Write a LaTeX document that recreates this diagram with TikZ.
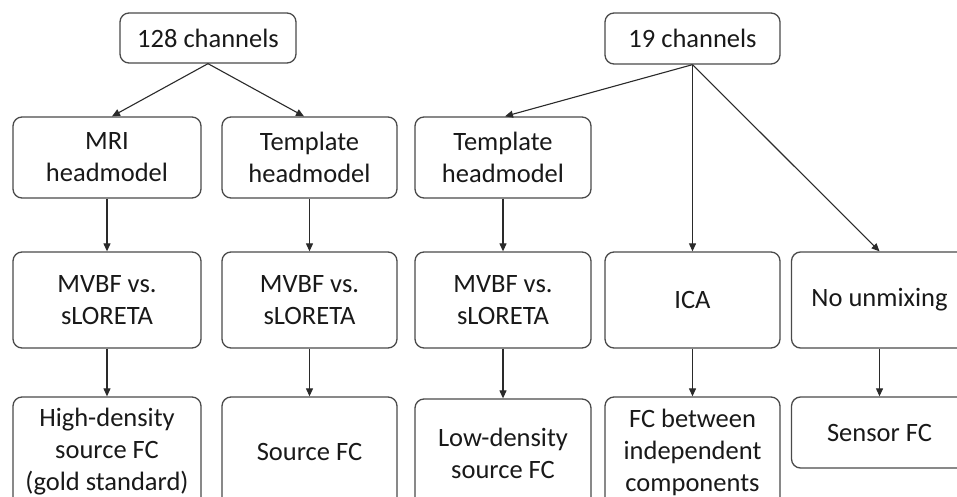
\documentclass[tikz,border=0pt]{standalone}
\usepackage{fontspec}
\setmainfont{Carlito}
\usetikzlibrary{arrows.meta}
\definecolor{boxline}{HTML}{4A4A4A}
\definecolor{arrline}{HTML}{2A2A2A}
\begin{document}
\begin{tikzpicture}[x=1pt,y=-1pt,
  box/.style={draw=boxline, line width=1.3pt, rounded corners=9pt, fill=white,
    align=center, inner sep=0pt, text=black!90,
    font=\fontsize{26.5}{32}\selectfont},
  arr/.style={draw=arrline, line width=1.1pt, -{Triangle[length=8pt,width=7pt]}}
]
\useasboundingbox (0,0) rectangle (957,497);
\clip (0,0) rectangle (957,497);
\fill[white] (0,0) rectangle (957,497);

% top row
\node[box, minimum width=176pt, minimum height=50pt] (c128) at (208,38) {128 channels};
\node[box, minimum width=175pt, minimum height=51pt] (c19) at (692.5,38.5) {19 channels};

% headmodel row
\node[box, minimum width=188pt, minimum height=81pt] (mri) at (107,157.5) {MRI\\headmodel};
\node[box, minimum width=175pt, minimum height=81pt] (tpl1) at (309.5,157.5) {Template\\headmodel};
\node[box, minimum width=176pt, minimum height=81pt] (tpl2) at (503,157.5) {Template\\headmodel};

% method row
\node[box, minimum width=188pt, minimum height=96pt] (mv1) at (107,300) {MVBF vs.\\sLORETA};
\node[box, minimum width=175pt, minimum height=96pt] (mv2) at (309.5,300) {MVBF vs.\\sLORETA};
\node[box, minimum width=176pt, minimum height=96pt] (mv3) at (503,300) {MVBF vs.\\sLORETA};
\node[box, minimum width=175pt, minimum height=96pt] (ica) at (692.5,300) {ICA};
\node[box, minimum width=176pt, minimum height=96pt] (nou) at (879.5,300) {No unmixing};

% result row
\node[box, minimum width=188pt, minimum height=110pt] (hd) at (107,452) {High-density\\source FC\\(gold standard)};
\node[box, minimum width=175pt, minimum height=110pt] (sfc) at (309.5,452) {Source FC};
\node[box, minimum width=176pt, minimum height=108pt] (ld) at (503,453) {Low-density\\source FC};
\node[box, minimum width=175pt, minimum height=110pt] (fcb) at (692.5,452) {FC between\\independent\\components};
\node[box, minimum width=176pt, minimum height=71pt] (sen) at (879.5,432.5) {Sensor FC};

% connectors
\draw[arr] (c128.south) -- ([xshift=5pt]mri.north);
\draw[arr] (c128.south) -- ([xshift=-5.5pt]tpl1.north);
\draw[arr] (c19.south) -- ([xshift=2pt]tpl2.north);
\draw[arr] (c19.south) -- (ica.north);
\draw[arr] (c19.south) -- (nou.north);

\draw[arr] (mri.south) -- (mv1.north);
\draw[arr] (tpl1.south) -- (mv2.north);
\draw[arr] (tpl2.south) -- (mv3.north);

\draw[arr] (mv1.south) -- (hd.north);
\draw[arr] (mv2.south) -- (sfc.north);
\draw[arr] (mv3.south) -- (ld.north);
\draw[arr] (ica.south) -- (fcb.north);
\draw[arr] (nou.south) -- (sen.north);
\end{tikzpicture}
\end{document}
